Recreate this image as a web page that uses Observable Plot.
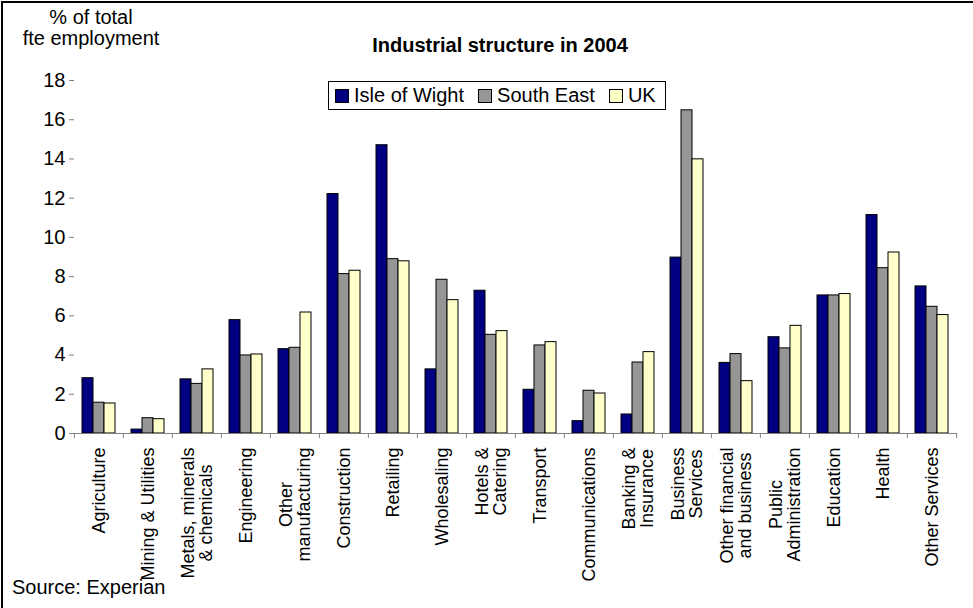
<!DOCTYPE html>
<html><head><meta charset="utf-8">
<script src="https://cdn.jsdelivr.net/npm/d3@7"></script>
<script src="https://cdn.jsdelivr.net/npm/@observablehq/plot@0.6"></script>
<style>
body{margin:0;background:#fff;}
#wrap{position:relative;width:973px;height:608px;font-family:"Liberation Sans",Arial,sans-serif;color:#000;overflow:hidden;background:#fff}
#chart{position:absolute;left:0;top:0}
.abs{position:absolute;white-space:nowrap;line-height:1}
#borderTop{position:absolute;left:1px;top:1px;width:972px;height:2px;background:#000}
#borderLeft{position:absolute;left:1px;top:1px;width:2px;height:607px;background:#000}
#title{left:500px;top:35px;transform:translateX(-50%);font-weight:bold;font-size:20px}
#ylabel{left:91px;top:7px;transform:translateX(-50%);font-size:20px;text-align:center;line-height:21px}
#legend{position:absolute;left:328px;top:81px;height:27px;border:1px solid #000;display:flex;align-items:center;font-size:20px;padding:0 9px 0 6px;box-sizing:content-box;white-space:nowrap}
#legend .item{display:flex;align-items:center;margin-right:14px}
#legend .item:last-child{margin-right:0}
#legend .sw{width:12px;height:12px;border:1px solid #000;margin-right:5px}
#source{left:12px;top:577px;font-size:20px}
</style></head><body>
<div id="wrap">
  <div id="chart"></div>
  <div id="borderTop"></div><div id="borderLeft"></div>
  <div id="title" class="abs"></div>
  <div id="ylabel" class="abs"></div>
  <div id="legend"></div>
  <div id="source" class="abs"></div>
</div>
<script>
// ---- data ----
const titleText = "Industrial structure in 2004";
const yLabelLines = ["% of total", "fte employment"];
const sourceText = "Source: Experian";
const categories = ["Agriculture","Mining & Utilities","Metals, minerals & chemicals","Engineering","Other manufacturing","Construction","Retailing","Wholesaling","Hotels & Catering","Transport","Communications","Banking & Insurance","Business Services","Other financial and business","Public Administration","Education","Health","Other Services"];
const tickLabels = ["Agriculture","Mining & Utilities","Metals, minerals\n& chemicals","Engineering","Other\nmanufacturing","Construction","Retailing","Wholesaling","Hotels &\nCatering","Transport","Communications","Banking &\nInsurance","Business\nServices","Other financial\nand business","Public\nAdministration","Education","Health","Other Services"];
const series = ["Isle of Wight","South East","UK"];
const isleOfWight = [2.82,0.2,2.76,5.78,4.3,12.21,14.7,3.27,7.28,2.23,0.63,0.97,8.97,3.6,4.91,7.04,11.14,7.5];
const southEast   = [1.57,0.78,2.53,3.98,4.37,8.13,8.89,7.84,5.03,4.49,2.18,3.62,16.48,4.05,4.34,7.04,8.43,6.46];
const uk          = [1.53,0.73,3.27,4.03,6.17,8.3,8.78,6.8,5.22,4.66,2.04,4.15,13.98,2.67,5.49,7.11,9.23,6.04];
const yTicks = [0,2,4,6,8,10,12,14,16,18];
const colors = ["#000080","#969696","#FFFFCC"];

// ---- build ----
const valuesBySeries = [isleOfWight, southEast, uk];
const rows = categories.flatMap((c,i)=>series.map((s,j)=>({category:c, series:s, value:valuesBySeries[j][i]})));
const labelOf = new Map(categories.map((c,i)=>[c,tickLabels[i]]));

const W=973, H=608, mL=72, mR=15, mT=80, mB=175;
const step=(W-mL-mR)/categories.length;
const font='"Liberation Sans",Arial,sans-serif';

const plot = Plot.plot({
  width:W, height:H, marginLeft:mL, marginRight:mR, marginTop:mT, marginBottom:mB,
  style:{fontFamily:font, fontSize:"20px", color:"#000", background:"transparent", overflow:"visible"},
  fx:{domain:categories, padding:0, label:null, axis:null},
  x:{domain:series, paddingInner:0, paddingOuter:0.7, axis:null},
  y:{domain:[0,18], label:null, axis:null},
  color:{domain:series, range:colors},
  marks:[
    Plot.barY(rows, {fx:"category", x:"series", y:"value", fill:"series", stroke:"#000", strokeWidth:1}),
    Plot.ruleY([0], {stroke:"#808080", strokeWidth:1}),
    Plot.ruleX([categories[0]], {fx:d=>d, y1:0, y2:18, dx:-step/2, stroke:"#808080", strokeWidth:1}),
    Plot.axisY({ticks:yTicks, tickSize:5, tickPadding:4, stroke:"#808080", label:null, fontSize:20, fill:"#000"}),
    Plot.axisFx({anchor:"bottom", tickSize:5, text:null, dx:-step/2, stroke:"#808080", label:null}),
    Plot.axisFx({anchor:"bottom", ticks:[categories[categories.length-1]], tickSize:5, text:null, dx:step/2, stroke:"#808080", label:null}),
    Plot.axisFx({anchor:"bottom", tickSize:0, tickPadding:14, rotate:-90, textAnchor:"end", lineAnchor:"middle", tickFormat:c=>labelOf.get(c), fontSize:18, fill:"#000", label:null})
  ]
});
document.getElementById("chart").appendChild(plot);

// center lines of multi-line rotated labels within their block (Excel style)
plot.querySelectorAll("text").forEach(t=>{
  const spans = t.querySelectorAll("tspan");
  if (spans.length < 2) return;
  const tr = t.getAttribute("transform") || "";
  if (!/rotate/.test(tr)) return;
  let maxLen = 0;
  spans.forEach(s=>{maxLen=Math.max(maxLen, s.getComputedTextLength());});
  t.setAttribute("text-anchor","middle");
  t.setAttribute("transform", tr + ` translate(${-maxLen/2},0)`);
});

document.getElementById("title").textContent = titleText;
document.getElementById("ylabel").innerHTML = yLabelLines.map(l=>`<div>${l}</div>`).join("");
document.getElementById("source").textContent = sourceText;
const lg = document.getElementById("legend");
series.forEach((s,i)=>{
  const it=document.createElement("div"); it.className="item";
  const sw=document.createElement("div"); sw.className="sw"; sw.style.background=colors[i];
  const tx=document.createElement("span"); tx.textContent=s;
  it.appendChild(sw); it.appendChild(tx); lg.appendChild(it);
});
</script>
</body></html>
